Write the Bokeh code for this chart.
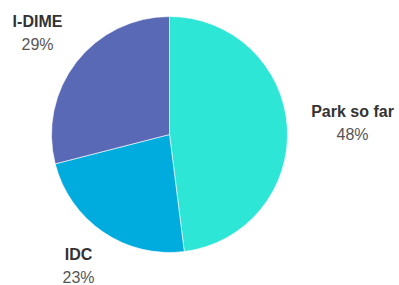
import math
from bokeh.plotting import figure
from bokeh.models import Range1d, ColumnDataSource
from bokeh.core.properties import value
from bokeh.embed import file_html
from bokeh.resources import INLINE

# data
categories = ["Park so far", "IDC", "I-DIME"]
shares = [48, 23, 29]
colors = ["#2EE6D6", "#00ABDE", "#5A69B5"]

# layout (page pixels; y measured downward)
W, H = 399, 285
CX, CY, R = 169, 134, 118
label_pos = [(352, 111), (78, 254), (37, 21)]
line_gap = 23

def ydata(ypage):
    return H - ypage

total = sum(shares)
starts, ends = [], []
acc = 0.0
for s in shares:
    a0 = math.pi / 2 - 2 * math.pi * acc / total
    acc += s
    a1 = math.pi / 2 - 2 * math.pi * acc / total
    starts.append(a0)
    ends.append(a1)

src = ColumnDataSource(dict(cat=categories, share=shares, color=colors,
                            start=starts, end=ends))

p = figure(width=W, height=H, output_backend="svg", toolbar_location=None,
           x_range=Range1d(0, W), y_range=Range1d(0, H),
           min_border=0)
p.axis.visible = False
p.grid.visible = False
p.outline_line_color = None
p.background_fill_color = "white"

p.wedge(x=CX, y=ydata(CY), radius=R, start_angle="start", end_angle="end",
        direction="clock", fill_color="color", line_color="white",
        line_width=0.6, source=src)

lsrc = ColumnDataSource(dict(
    x=[lp[0] for lp in label_pos],
    y=[ydata(lp[1]) for lp in label_pos],
    y2=[ydata(lp[1] + line_gap) for lp in label_pos],
    name=categories,
    pct=[f"{s}%" for s in shares],
))

p.text(x="x", y="y", text="name", source=lsrc, text_align="center",
       text_baseline="alphabetic", text_font=value("Liberation Sans"),
       text_font_size="16px", text_font_style="bold", text_color="#333333")
p.text(x="x", y="y2", text="pct", source=lsrc, text_align="center",
       text_baseline="alphabetic", text_font=value("Liberation Sans"),
       text_font_size="16px", text_color="#555555")

open("out.html", "w").write(file_html(p, INLINE))
